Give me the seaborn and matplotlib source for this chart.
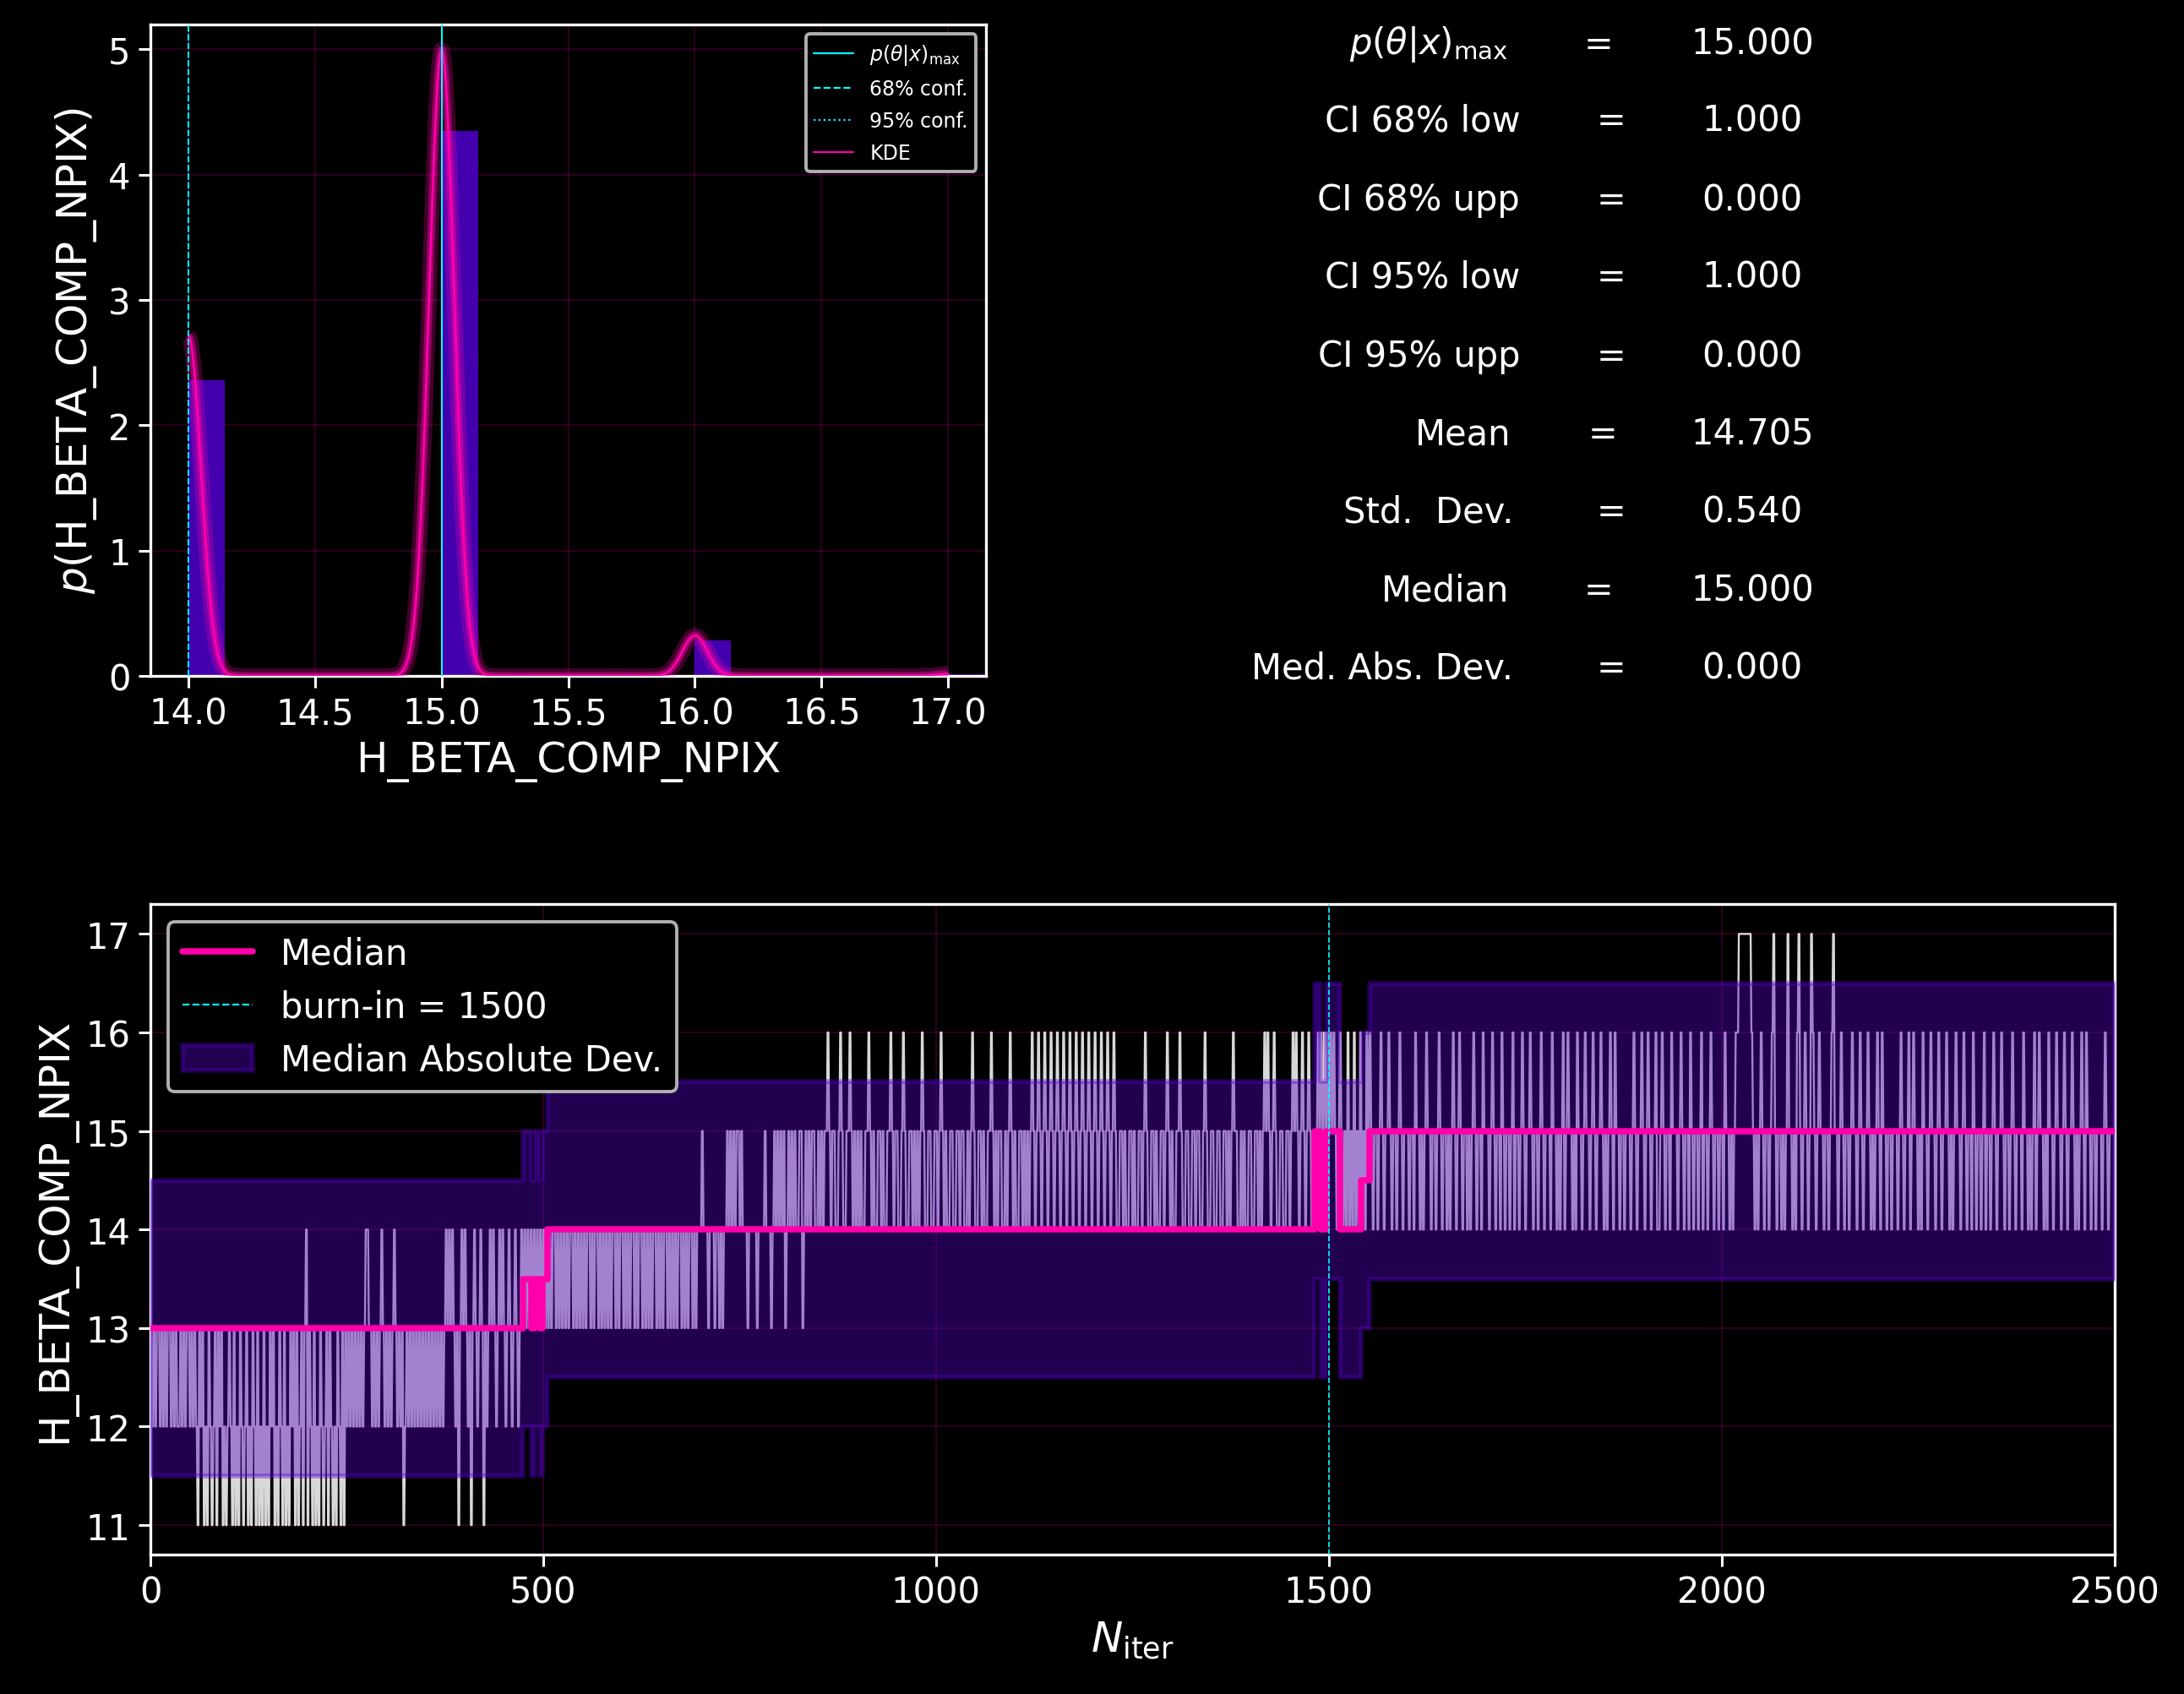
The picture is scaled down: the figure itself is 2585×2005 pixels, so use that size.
import numpy as np
import pandas as pd
import seaborn as sns
import matplotlib
matplotlib.use("Agg")
import matplotlib.pyplot as plt
from matplotlib.lines import Line2D
from matplotlib.patches import Patch

# ---------------- data ----------------
param_name = "H_BETA_COMP_NPIX"

# post burn-in sample fractions
post_values = [14, 15, 16, 17]
post_fraction = [0.337, 0.621, 0.040, 0.002]

p_max = 15.0
ci68_err = [1.0, 0.0]   # low, upp
ci95_err = [1.0, 0.0]

stat_labels = [r"$p(\theta|x)_{\rm max}$", "CI 68% low", "CI 68% upp", "CI 95% low",
               "CI 95% upp", "Mean", "Std.  Dev.", "Median", "Med. Abs. Dev."]
stat_values = [15.000, 1.000, 0.000, 1.000, 0.000, 14.705, 0.540, 15.000, 0.000]

burn_in = 1500
n_iter = 2500
iters_per_char = 2
# chain trace, one digit per 2 iterations (value = 10 + digit), one string per 100 iterations
trace_blocks = [
    "3232332323" "2332323223" "2323323232" "1323121321" "2313231212",
    "3213121321" "2312132131" "2131213231" "2132131213" "2313123134",
    "1321312132" "1231321213" "2131323232" "3232323443" "3232323432",
    "3232343232" "3123232323" "2323232323" "2323232343" "4343231343",
    "4323134323" "4313234343" "2343432343" "2343234343" "4343434343",
    "4343434434" "3434343443" "4343434344" "3434434343" "4343443434",
    "4343434434" "3443434343" "4434343443" "4343434434" "3434434344",
    "4544434443" "4434344545" "4545545444" "3444443444" "4544434545",
    "4545345454" "5445534545" "4554454545" "5654554456" "5445565454",
    "5454455654" "5445545445" "5654554456" "5445545454" "5654455445",
    "5456545445" "5445545544" "5456544554" "5445565454" "5544545654",
    "5445545454" "5654565456" "5456545654" "5654565456" "5456545654",
    "5654565456" "5456544554" "5445545445" "5456544554" "5445545654",
    "5445565445" "5445545544" "5654455445" "5445545456" "5544545445",
    "5445545456" "5654565445" "5445545656" "5456545654" "5456565656",
    "5656545654" "5464546454" "6454656545" "5456545565" "4554565455",
    "5455465545" "4565545545" "6545545456" "5456545545" "4565455465",
    "5545654554" "6545545645" "5456545565" "4554565455" "5465545456",
    "4565545465" "5456554565" "4556545456" "5465545545" "5545654556",
    "5456545564" "4565455465" "5545654554" "6545545645" "5456545545",
    "5465545456" "6777777776" "5454565455" "4567545545" "4575545467",
    "5456545765" "4565545545" "6755456545" "5456554565" "4556545456",
    "5465545545" "5545654556" "4565545465" "5456554565" "4556545456",
    "5545654554" "6545545645" "5456545565" "4554565455" "5465545456",
    "4565545465" "5456554565" "4556545456" "5465545545" "5545654555",
]

# running median of the chain (change points) and MAD half width
median_change_iter = [0, 474, 485, 489, 496, 499, 505, 1482, 1489, 1497, 1514, 1541, 1552]
median_change_value = [13, 13.5, 13, 13.5, 13, 13.5, 14, 15, 14, 15, 14, 14.5, 15]
mad_halfwidth = 1.5

# ---------------- style ----------------
PINK = "#ff00aa"
CYAN = "#00ffff"
BAR = "#4400ae"
BAND = "#5500c8"

sns.set_theme(style="dark", rc={
    "figure.facecolor": "black", "axes.facecolor": "black",
    "axes.edgecolor": "white", "axes.labelcolor": "white",
    "text.color": "white", "xtick.color": "white", "ytick.color": "white",
    "grid.color": PINK, "grid.alpha": 0.2, "grid.linewidth": 0.6,
    "axes.grid": True, "xtick.bottom": True, "ytick.left": True,
    "axes.linewidth": 1.2,
})
plt.rcParams["font.family"] = ["DejaVu Sans"]
plt.rcParams["mathtext.fontset"] = "dejavusans"

fig = plt.figure(figsize=(12.925, 10.03), dpi=200)
ax1 = fig.add_axes([0.0689, 0.6007, 0.3826, 0.3845])
ax2 = fig.add_axes([0.0689, 0.0822, 0.8992, 0.3837])

# ---------------- top-left: posterior ----------------
sns.histplot(x=post_values, weights=post_fraction, bins=22,
             binrange=(14 - 1e-6, 14 + 22 / 7 - 1e-6), stat="density",
             color=BAR, alpha=1.0, linewidth=0, ax=ax1, zorder=2)
sns.kdeplot(x=post_values, weights=post_fraction, bw_method=0.064, cut=0,
            gridsize=800, color=PINK, lw=1.0, ax=ax1, zorder=5)
kx, ky = ax1.lines[-1].get_data()
ax1.plot(kx, ky, color=PINK, lw=6.5, alpha=0.25, zorder=4, solid_capstyle="butt")
ax1.plot(kx, ky, color=PINK, lw=3.2, alpha=0.45, zorder=4, solid_capstyle="butt")

ax1.axvline(p_max, color=CYAN, lw=0.7, ls="-", zorder=6)
ax1.axvline(p_max - ci68_err[0], color=CYAN, lw=0.7, ls="--", zorder=6)
ax1.axvline(p_max + ci68_err[1], color=CYAN, lw=0.7, ls="--", zorder=6)
ax1.axvline(p_max - ci95_err[0], color=CYAN, lw=0.7, ls=":", zorder=6)
ax1.axvline(p_max + ci95_err[1], color=CYAN, lw=0.7, ls=":", zorder=6)

ax1.set_xlim(13.85, 17.15)
ax1.set_ylim(0, 5.2)
ax1.set_xticks(np.arange(14, 17.01, 0.5))
ax1.set_yticks(range(0, 6))
ax1.set_xlabel(param_name, fontsize=18)
ax1.set_ylabel(r"$p$(" + param_name + ")", fontsize=18)
ax1.tick_params(labelsize=15, direction="out", length=5, width=1.1, colors="white")

h1 = [Line2D([], [], color=CYAN, lw=0.8, ls="-"),
      Line2D([], [], color=CYAN, lw=0.8, ls="--"),
      Line2D([], [], color=CYAN, lw=0.8, ls=":"),
      Line2D([], [], color=PINK, lw=0.8, ls="-")]
l1 = ax1.legend(h1, [r"$p(\theta|x)_{\rm max}$", "68% conf.", "95% conf.", "KDE"],
                loc="upper right", fontsize=8.5, facecolor="black", framealpha=1,
                edgecolor="#b0b0b0", fancybox=True, labelspacing=0.6)
l1.get_frame().set_linewidth(1.4)
l1.set_zorder(10)
for t in l1.get_texts():
    t.set_color("white")

# ---------------- top-right: statistics ----------------
row_y = [0.9737, 0.9286, 0.8817, 0.8364, 0.7895, 0.7437, 0.6978, 0.6515, 0.6056]
lab_x = [0.6905, 0.6960, 0.6960, 0.6960, 0.6960, 0.6920, 0.6930, 0.6910, 0.6930]
eq_x = [0.7321, 0.7377, 0.7377, 0.7377, 0.7377, 0.7338, 0.7377, 0.7321, 0.7377]
for lab, val, y, lx, ex in zip(stat_labels, stat_values, row_y, lab_x, eq_x):
    fig.text(lx, y, lab, ha="right", va="center", fontsize=15, color="white")
    fig.text(ex, y, "=", ha="center", va="center", fontsize=15, color="white")
    fig.text(0.8023, y, f"{val:.3f}", ha="center", va="center", fontsize=15, color="white")

# ---------------- bottom: trace ----------------
chain = np.repeat([10 + int(c) for c in "".join(trace_blocks)], iters_per_char)
assert len(chain) == n_iter, len(chain)
trace_df = pd.DataFrame({"iter": np.arange(n_iter), "value": chain})
sns.lineplot(data=trace_df, x="iter", y="value", estimator=None, sort=False,
             color="white", alpha=0.85, lw=0.85, ax=ax2, zorder=2)

mx = np.array(median_change_iter + [n_iter])
my = np.array(median_change_value + [median_change_value[-1]])
ax2.fill_between(mx, my - mad_halfwidth, my + mad_halfwidth, step="post",
                 facecolor=BAND, edgecolor=BAND, alpha=0.4, lw=2.0, zorder=3)
med_df = pd.DataFrame({"iter": mx, "median": my})
sns.lineplot(data=med_df, x="iter", y="median", estimator=None, sort=False,
             drawstyle="steps-post", color=PINK, lw=2.7, ax=ax2, zorder=5)
ax2.axvline(burn_in, color=CYAN, lw=0.6, ls="--", zorder=6)

ax2.set_xlim(0, n_iter)
ax2.set_ylim(10.7, 17.3)
ax2.set_xticks(range(0, 2501, 500))
ax2.set_yticks(range(11, 18))
ax2.set_xlabel(r"$N_{\rm iter}$", fontsize=18)
ax2.set_ylabel(param_name, fontsize=18)
ax2.tick_params(labelsize=15, direction="out", length=5, width=1.1, colors="white")

h2 = [Line2D([], [], color=PINK, lw=2.7),
      Line2D([], [], color=CYAN, lw=0.8, ls="--"),
      Patch(facecolor=BAND, edgecolor=BAND, alpha=0.4, lw=2.0)]
l2 = ax2.legend(h2, ["Median", f"burn-in = {burn_in}", "Median Absolute Dev."],
                loc="upper left", fontsize=15, facecolor="black", framealpha=1,
                edgecolor="#b0b0b0", fancybox=True)
l2.get_frame().set_linewidth(1.4)
l2.set_zorder(10)
for t in l2.get_texts():
    t.set_color("white")

for ax in (ax1, ax2):
    ax.set_axisbelow(True)
    for s in ax.spines.values():
        s.set_color("white")
        s.set_linewidth(1.2)

fig.savefig("out.png", dpi=200, facecolor="black")
